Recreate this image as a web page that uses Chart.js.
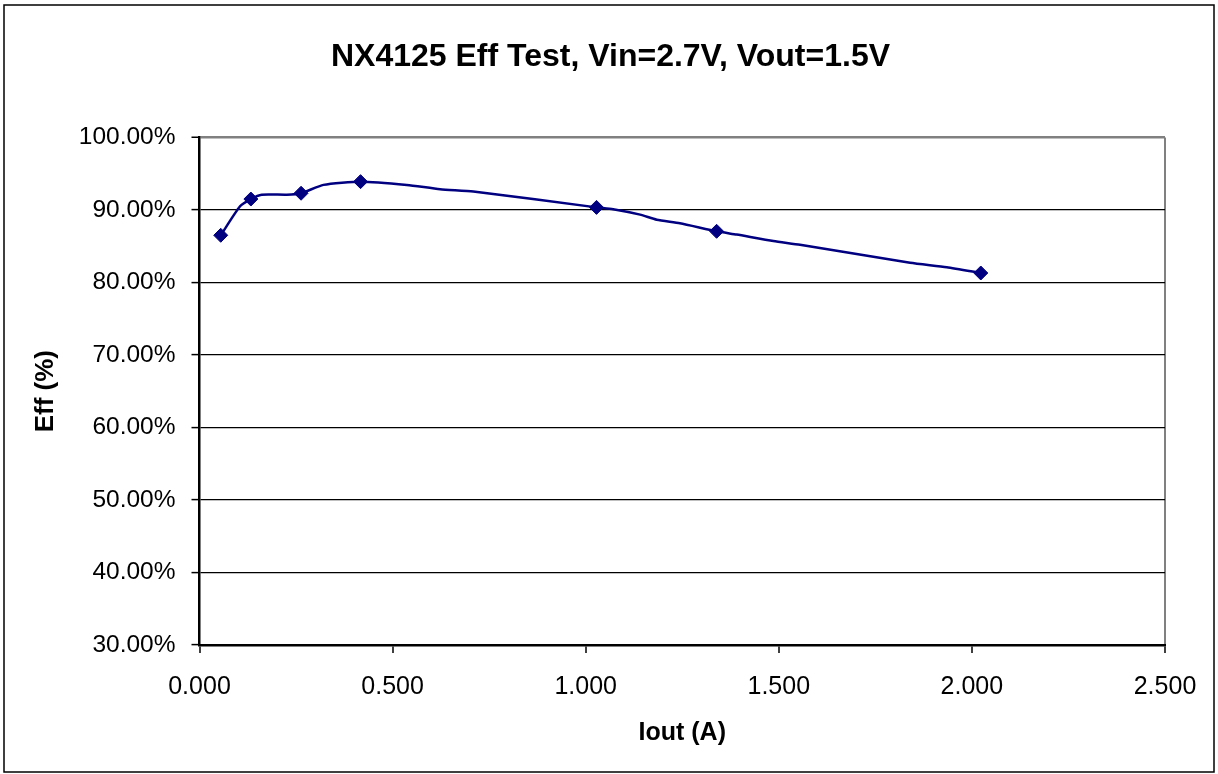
<!DOCTYPE html>
<html>
<head>
<meta charset="utf-8">
<script src="https://cdn.jsdelivr.net/npm/chart.js@4.4.0/dist/chart.umd.min.js"></script>
<style>
  html, body { margin: 0; padding: 0; background: #fff; }
  #wrap { width: 1218px; height: 774px; }
</style>
</head>
<body>
<div id="wrap"><canvas id="chart1"></canvas></div>
<script>
// measured points (markers)
var iout = [0.055, 0.133, 0.263, 0.417, 1.028, 1.339, 2.023]
var eff = [86.5, 91.5, 92.3, 93.9, 90.35, 87.05, 81.3]

// line drawn through extra readings
var curve_x = [0.055, 0.105, 0.133, 0.161, 0.226, 0.263, 0.321, 0.417, 0.537, 0.623, 0.709,
               1.028, 1.071, 1.141, 1.184, 1.244, 1.339, 1.391, 1.486, 1.555, 1.840, 1.935, 2.023]
var curve_y = [86.5, 90.5, 91.5, 92.1, 92.1, 92.3, 93.45, 93.9, 93.45, 92.85, 92.55,
               90.35, 90.1, 89.35, 88.65, 88.15, 87.05, 86.6, 85.7, 85.2, 82.7, 82.1, 81.3]

var y_ticks = [30, 40, 50, 60, 70, 80, 90, 100]
var x_ticks = [0, 0.5, 1, 1.5, 2, 2.5]

var font = "'Liberation Sans', Arial, sans-serif"
var navy = '#000080'

function pts(xs, ys) {
    return xs.map(function (x, i) { return { x: x, y: ys[i] } })
}

// outer frame around the whole picture
var framePlugin = {
    id: 'frame',
    afterDraw: function (chart) {
        var ctx = chart.ctx
        ctx.save()
        ctx.strokeStyle = '#000'
        ctx.lineWidth = 1.5
        ctx.strokeRect(4, 5, chart.width - 8, chart.height - 7)
        ctx.restore()
    }
}

var chart1 = new Chart(
    document.getElementById('chart1'),
    {
        type: 'scatter',
        data: {
            datasets: [
                {
                    label: 'Eff',
                    data: pts(iout, eff),
                    showLine: false,
                    pointStyle: 'rectRot',
                    pointRadius: 7,
                    pointBackgroundColor: navy,
                    pointBorderColor: navy,
                    pointBorderWidth: 1,
                },
                {
                    label: 'curve',
                    data: pts(curve_x, curve_y),
                    showLine: true,
                    borderColor: navy,
                    borderWidth: 2.5,
                    pointRadius: 0,
                    tension: 0.2,
                },
            ]
        },
        options: {
            responsive: true,
            maintainAspectRatio: false,
            animation: false,
            layout: { padding: { left: 3, right: 0, top: 0, bottom: 0 } },
            plugins: {
                legend: { display: false },
                tooltip: { enabled: false },
                title: {
                    display: true,
                    text: 'NX4125 Eff Test, Vin=2.7V, Vout=1.5V',
                    color: '#000',
                    font: { family: font, size: 32, weight: 'bold' },
                    padding: { top: 38, bottom: 61 }
                }
            },
            scales: {
                x: {
                    type: 'linear',
                    min: 0,
                    max: 2.5,
                    afterBuildTicks: function (s) {
                        s.ticks = x_ticks.map(function (v) { return { value: v } })
                    },
                    afterFit: function (s) { s.height = 129 },
                    ticks: {
                        color: '#000',
                        font: { family: font, size: 25 },
                        padding: 19,
                        callback: function (v) { return v.toFixed(3) }
                    },
                    grid: {
                        drawOnChartArea: true,
                        color: function (c) { return c.tick && Math.abs(c.tick.value - 2.5) < 1e-6 ? '#808080' : 'rgba(0,0,0,0)' },
                        lineWidth: 2,
                        tickColor: '#000',
                        tickLength: 8,
                        tickWidth: 1.5
                    },
                    border: { color: '#000', width: 2.5 },
                    title: {
                        display: true,
                        text: 'Iout (A)',
                        color: '#000',
                        font: { family: font, size: 25, weight: 'bold' },
                        padding: { top: 0, bottom: 26 }
                    }
                },
                y: {
                    min: 30,
                    max: 100,
                    afterBuildTicks: function (s) {
                        s.ticks = y_ticks.map(function (v) { return { value: v } })
                    },
                    afterFit: function (s) { s.width = 196.5 },
                    ticks: {
                        color: '#000',
                        font: { family: font, size: 24.5 },
                        padding: 16,
                        callback: function (v) { return v.toFixed(2) + '%' }
                    },
                    grid: {
                        color: function (c) { return c.tick && c.tick.value >= 99.9 ? '#808080' : '#000' },
                        lineWidth: function (c) { return c.tick && c.tick.value >= 99.9 ? 2.5 : 1.2 },
                        tickColor: '#000',
                        tickLength: 8,
                        tickWidth: 1.5
                    },
                    border: { color: '#000', width: 2.5 },
                    title: {
                        display: true,
                        text: 'Eff (%)',
                        color: '#000',
                        font: { family: font, size: 26, weight: 'bold' },
                        padding: { top: 27, bottom: 0 }
                    }
                },
                // empty right-hand margin so the title centres on the whole picture
                yRight: {
                    position: 'right',
                    min: 30,
                    max: 100,
                    afterFit: function (s) { s.width = 53 },
                    ticks: { display: false },
                    grid: { drawOnChartArea: false, display: false },
                    border: { display: false }
                }
            }
        },
        plugins: [framePlugin]
    }
);
</script>
</body>
</html>
